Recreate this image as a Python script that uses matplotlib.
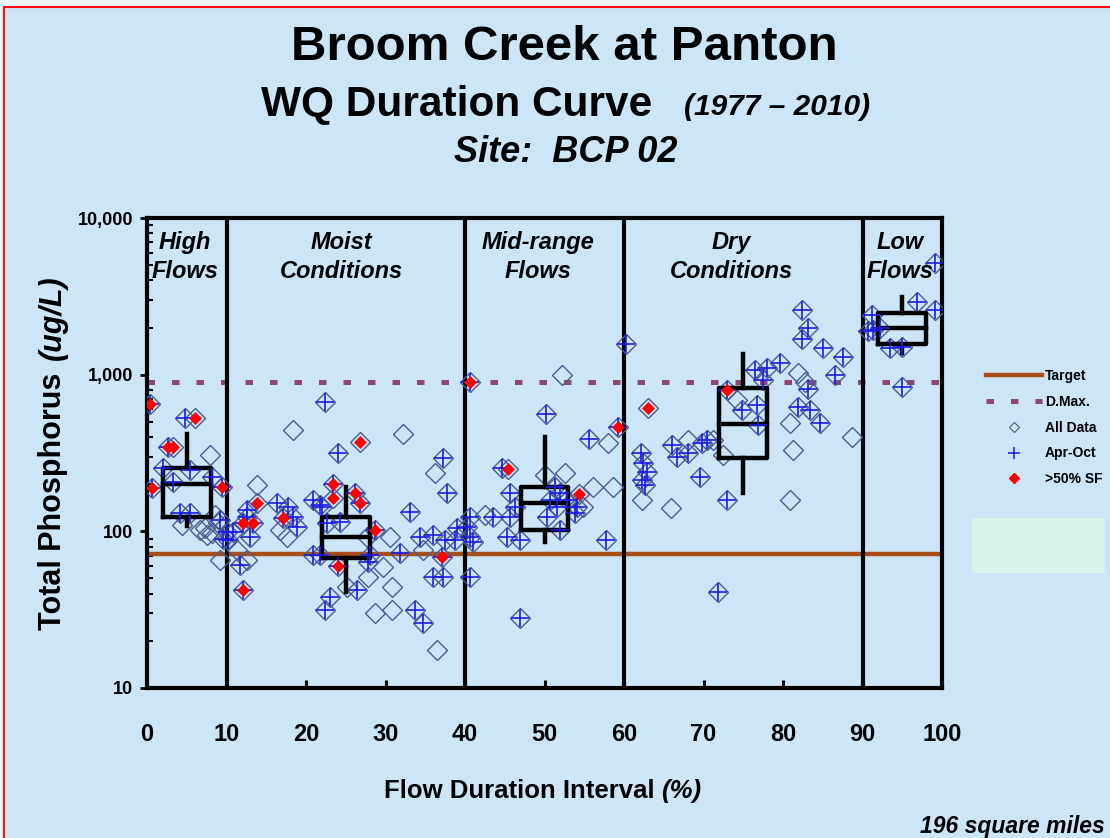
import matplotlib
matplotlib.use("Agg")
import matplotlib.pyplot as plt
from matplotlib.lines import Line2D
from matplotlib.patches import Rectangle
from matplotlib.ticker import FixedLocator, NullFormatter
import numpy as np

plt.rcParams['font.family'] = ['Liberation Sans', 'DejaVu Sans']

# ---------------- data ----------------
# flow duration interval (%), total phosphorus (ug/L),
# Apr-Oct sample flag, >50% storm-flow flag
pct = [
    0.4, 0.6, 2.6, 3.3, 4.8, 6.0, 7.9, 2.0, 5.4, 3.3, 8.2, 9.4, 4.2, 5.4, 4.4,
    7.3, 8.6, 9.2, 6.7, 7.5, 8.2, 8.9, 9.6, 9.2,
    10.1, 10.8, 10.2, 11.3, 11.7, 12.6, 12.1, 12.1, 13.3, 12.6, 12.6, 13.0,
    13.8, 13.8, 16.4, 17.7, 17.1, 18.4, 18.9, 16.7, 17.6, 18.4, 20.9, 21.8,
    22.0, 22.6, 20.9, 21.8, 22.4, 23.4, 23.4, 24.0, 26.2, 26.8, 26.8, 28.7,
    24.0, 23.0, 22.4, 25.2, 26.4, 28.7, 30.8, 27.8, 29.7, 30.8, 27.8, 28.0,
    30.6, 31.8, 32.2, 33.1, 33.7, 34.7, 34.7, 34.3, 36.0, 37.5, 38.7, 36.0,
    37.2, 36.5, 36.2, 37.2, 37.7, 37.1, 39.0, 24.3, 27.7,
    40.6, 40.3, 40.6, 41.0, 40.6, 40.6, 42.5, 43.5, 44.7, 45.4, 45.7, 45.7,
    46.3, 45.3, 46.9, 46.9, 50.0, 50.2, 50.3, 50.7, 51.3, 51.6, 51.9, 52.0,
    52.2, 52.6, 52.8, 53.8, 54.1, 54.3, 54.8, 55.6, 56.1, 57.7, 58.0, 58.6,
    59.2,
    60.3, 62.1, 62.4, 62.9, 62.3, 62.6, 62.3, 63.0, 65.9, 66.0, 66.7, 68.1,
    68.1, 69.6, 69.8, 70.4, 71.2, 71.8, 72.5, 73.0, 73.0, 74.2, 74.8, 76.5,
    76.7, 76.9, 77.5, 78.0, 79.6, 80.9, 80.9, 81.3, 81.9, 81.9, 82.4, 83.1,
    82.4, 82.8, 83.1, 83.4, 84.7, 85.0, 86.5, 87.5, 88.7,
    90.7, 91.2, 91.3, 92.2, 93.5, 95.0, 95.0, 96.9, 99.1, 99.1,
]
tp = [
    650, 190, 345, 345, 528, 528, 307, 255, 246, 206, 222, 192, 131, 131, 110,
    105, 128, 118, 102, 95, 98, 113, 90, 66,
    99, 99, 88, 76, 61, 66, 42, 113, 113, 124, 137, 92,
    197, 152, 152, 143, 122, 124, 106, 102, 92, 443, 158, 147,
    143, 113, 71, 71, 665, 200, 163, 316, 176, 152, 372, 102,
    60, 38, 31.5, 44, 42, 30, 31.5, 51, 59, 44, 64, 71,
    92, 73, 420, 133, 31.5, 26, 76, 92, 95, 88, 88, 51,
    51, 17.5, 236, 293, 176, 69, 105, 115, 92,
    900, 106, 92, 85, 124, 51, 128, 124, 252, 250, 176, 124,
    143, 92, 88, 28, 230, 565, 124, 158, 192, 143, 176, 102,
    1000, 236, 158, 131, 143, 173, 143, 390, 192, 88, 366, 192,
    465,
    1580, 316, 275, 238, 213, 197, 158, 615, 140, 355, 300, 316,
    383, 222, 366, 383, 383, 41, 307, 800, 158, 690, 595, 1070,
    640, 475, 925, 1110, 1190, 490, 158, 330, 625, 1030, 2590, 2000,
    1700, 900, 810, 595, 490, 1480, 1000, 1300, 400,
    1890, 2400, 1930, 2000, 1480, 1500, 830, 2900, 2590, 5150,
]
apr_oct = [
    1, 1, 1, 0, 1, 0, 0, 1, 1, 1, 1, 1, 1, 1, 0,
    0, 0, 1, 0, 0, 0, 0, 1, 0,
    1, 1, 1, 0, 1, 0, 1, 1, 1, 1, 1, 1,
    0, 0, 1, 1, 1, 1, 1, 0, 0, 0, 1, 1,
    1, 1, 1, 1, 1, 1, 0, 1, 1, 1, 0, 1,
    1, 1, 1, 0, 1, 0, 0, 0, 0, 0, 1, 1,
    0, 1, 0, 1, 1, 1, 0, 1, 1, 1, 1, 1,
    1, 0, 0, 1, 1, 1, 1, 1, 0,
    1, 1, 1, 1, 1, 1, 0, 1, 1, 0, 1, 1,
    1, 1, 1, 1, 0, 1, 1, 1, 1, 1, 1, 1,
    0, 0, 1, 1, 1, 0, 0, 1, 0, 1, 0, 0,
    1,
    1, 1, 1, 1, 1, 1, 0, 0, 0, 1, 1, 1,
    0, 1, 1, 1, 0, 1, 0, 1, 1, 0, 1, 1,
    1, 1, 1, 1, 1, 0, 0, 0, 1, 0, 1, 1,
    1, 0, 1, 1, 1, 1, 1, 1, 0,
    1, 1, 1, 1, 1, 1, 1, 1, 1, 1,
]
storm_flow = [
    1, 1, 1, 1, 0, 1, 0, 0, 0, 0, 0, 1, 0, 0, 0,
    0, 0, 0, 0, 0, 0, 0, 0, 0,
    0, 0, 0, 0, 0, 0, 1, 1, 1, 0, 0, 0,
    0, 1, 0, 0, 1, 0, 0, 0, 0, 0, 0, 0,
    0, 0, 0, 0, 0, 1, 1, 0, 1, 1, 1, 1,
    1, 0, 0, 0, 0, 0, 0, 0, 0, 0, 0, 0,
    0, 0, 0, 0, 0, 0, 0, 0, 0, 0, 0, 0,
    0, 0, 0, 0, 0, 1, 0, 0, 0,
    1, 0, 0, 0, 0, 0, 0, 0, 0, 1, 0, 0,
    0, 0, 0, 0, 0, 0, 0, 0, 0, 0, 0, 0,
    0, 0, 0, 0, 0, 1, 0, 0, 0, 0, 0, 0,
    1,
    0, 0, 0, 0, 0, 0, 0, 1, 0, 0, 0, 0,
    0, 0, 0, 0, 0, 0, 0, 1, 0, 0, 0, 0,
    0, 0, 0, 0, 0, 0, 0, 0, 0, 0, 0, 0,
    0, 0, 0, 0, 0, 0, 0, 0, 0,
    0, 0, 0, 0, 0, 0, 0, 0, 0, 0,
]

# box-plot summary for each flow zone
box_pos = [5, 25, 50, 75, 95]
box_lo = [108, 41, 85, 176, 1370]
box_q1 = [123, 68, 102, 294, 1570]
box_med = [200, 92, 152, 484, 1990]
box_q3 = [254, 123, 192, 822, 2480]
box_hi = [420, 192, 400, 1355, 3130]

target = 72
daily_max = 900
zone_edges = [10, 40, 60, 90]
zone_names = ["High\nFlows", "Moist\nConditions", "Mid-range\nFlows",
              "Dry\nConditions", "Low\nFlows"]
zone_centers = [4.8, 24.5, 49.2, 73.5, 94.7]
x_ticks = [0, 10, 20, 30, 40, 50, 60, 70, 80, 90, 100]
y_ticks = [10, 100, 1000, 10000]
y_tick_labels = ["10", "100", "1,000", "10,000"]

# ---------------- styling ----------------
BG = "#CCE6F8"
TARGET_C = "#A94E18"
DMAX_C = "#8C4873"
DIAMOND_C = "#4A5A92"
CROSS_C = "#1C1CE6"
RED_C = "#FF0000"

W, H = 1110, 838
fig = plt.figure(figsize=(W / 100, H / 100), dpi=100)
fig.patch.set_facecolor("#F1F3F6")
fig.add_artist(Rectangle((4 / W, -0.05), 1.05, 1.05 - 7 / H,
                         transform=fig.transFigure, facecolor=BG,
                         edgecolor="#FF1010", lw=1.5, zorder=0))
fig.add_artist(Rectangle((972 / W, 1 - 573 / H), 133 / W, 55 / H,
                         transform=fig.transFigure, facecolor="#D4F4EC",
                         edgecolor="none", zorder=1))

ax = fig.add_axes([147 / W, 1 - 688 / H, 795 / W, 470 / H])
ax.set_facecolor("none")
ax.set_yscale("log")
ax.set_xlim(0, 100)
ax.set_ylim(10, 10000)

pct_a = np.array(pct)
tp_a = np.array(tp)
ao = np.array(apr_oct, dtype=bool)
sf = np.array(storm_flow, dtype=bool)

# reference lines and flow-zone dividers
ax.axhline(target, color=TARGET_C, lw=3.2, zorder=2)
ax.axhline(daily_max, color=DMAX_C, lw=3.6, dashes=(1.5, 3.4),
           dash_capstyle="butt", zorder=2)
for e in zone_edges:
    ax.axvline(e, color="black", lw=3, zorder=2)

# zone box plots
stats = [dict(whislo=lo, q1=a, med=m, q3=b, whishi=hi)
         for lo, a, m, b, hi in zip(box_lo, box_q1, box_med, box_q3, box_hi)]
kw = dict(color="black", lw=3.2, solid_capstyle="projecting")
ax.bxp(stats, positions=box_pos, widths=6, showfliers=False, showcaps=False,
       boxprops=kw, whiskerprops=kw, medianprops=kw, manage_ticks=False,
       zorder=3.5)

# samples
ax.plot(pct_a, tp_a, ls="none", marker="D", ms=10, mfc="none",
        mec=DIAMOND_C, mew=1.0, zorder=3)
ax.plot(pct_a[ao], tp_a[ao], ls="none", marker="+", ms=13.5, mec=CROSS_C,
        mew=1.2, zorder=4)
ax.plot(pct_a[sf], tp_a[sf], ls="none", marker="D", ms=6.3, mfc=RED_C,
        mec=RED_C, mew=0.5, zorder=5)

# zone labels
for c, name in zip(zone_centers, zone_names):
    ax.text(c, 0.972, name, transform=ax.get_xaxis_transform(), ha="center",
            va="top", fontsize=17, fontweight="bold", style="italic",
            linespacing=1.3, zorder=6)

# axes, ticks
for s in ax.spines.values():
    s.set_linewidth(3)
    s.set_color("black")
ax.xaxis.set_major_locator(FixedLocator(x_ticks))
ax.set_xticklabels([str(t) for t in x_ticks])
ax.yaxis.set_major_locator(FixedLocator(y_ticks))
ax.set_yticklabels(y_tick_labels)
minor = [m * 10 ** d for d in range(1, 4) for m in range(2, 10)]
ax.yaxis.set_minor_locator(FixedLocator(minor))
ax.yaxis.set_minor_formatter(NullFormatter())
ax.tick_params(axis="x", direction="in", length=6, width=2.2, pad=25,
               labelsize=17)
ax.tick_params(axis="y", which="major", direction="out", length=5, width=2,
               pad=5, labelsize=13)
ax.tick_params(axis="y", which="minor", direction="in", length=4, width=1.5)
for lab in ax.get_xticklabels() + ax.get_yticklabels():
    lab.set_fontweight("bold")

# titles
fig.text(564 / W, 1 - 48 / H, "Broom Creek at Panton", ha="center",
         va="center", fontsize=35.5, fontweight="bold")
fig.text(457 / W, 1 - 105 / H, "WQ Duration Curve", ha="center",
         va="center", fontsize=30.5, fontweight="bold")
fig.text(777 / W, 1 - 107 / H, "(1977 \u2013 2010)", ha="center",
         va="center", fontsize=21.5, fontweight="bold", style="italic")
fig.text(566 / W, 1 - 153 / H, "Site:  BCP 02", ha="center", va="center",
         fontsize=26, fontweight="bold", style="italic")

# axis titles
fig.text(655 / W, 1 - 791 / H, "Flow Duration Interval", ha="right",
         va="center", fontsize=18.5, fontweight="bold")
fig.text(661 / W, 1 - 791 / H, "(%)", ha="left", va="center",
         fontsize=18.5, fontweight="bold", style="italic")
yl = fig.text(53 / W, 1 - 630 / H, "Total Phosphorus", rotation=90,
              ha="center", va="bottom", fontsize=22, fontweight="bold")
ax.annotate("(ug/L)", xy=(0.5, 1.0), xycoords=yl, xytext=(0, 9),
            textcoords="offset points", rotation=90, ha="center",
            va="bottom", fontsize=22, fontweight="bold", style="italic",
            annotation_clip=False)

fig.text(1105 / W, 1 - 826 / H, "196 square miles", ha="right",
         va="center", fontsize=16.5, fontweight="bold", style="italic")

# legend
handles = [
    Line2D([], [], color=TARGET_C, lw=3.2),
    Line2D([], [], color=DMAX_C, lw=3.6, dashes=(1.5, 3.4)),
    Line2D([], [], ls="none", marker="D", ms=5, mfc="none", mec=DIAMOND_C,
           mew=0.8),
    Line2D([], [], ls="none", marker="+", ms=9, mec=CROSS_C, mew=1.1),
    Line2D([], [], ls="none", marker="D", ms=5, mfc=RED_C, mec=RED_C),
]
labels = ["Target", "D.Max.", "All Data", "Apr-Oct", ">50% SF"]
fig.legend(handles, labels, loc="upper left",
           bbox_to_anchor=(986 / W, 1 - 369 / H), frameon=False,
           handlelength=4.0, handletextpad=0.25, labelspacing=0.85,
           borderpad=0, borderaxespad=0,
           prop=dict(weight="bold", size=10))

fig.savefig("out.png", dpi=100, facecolor=fig.get_facecolor())
